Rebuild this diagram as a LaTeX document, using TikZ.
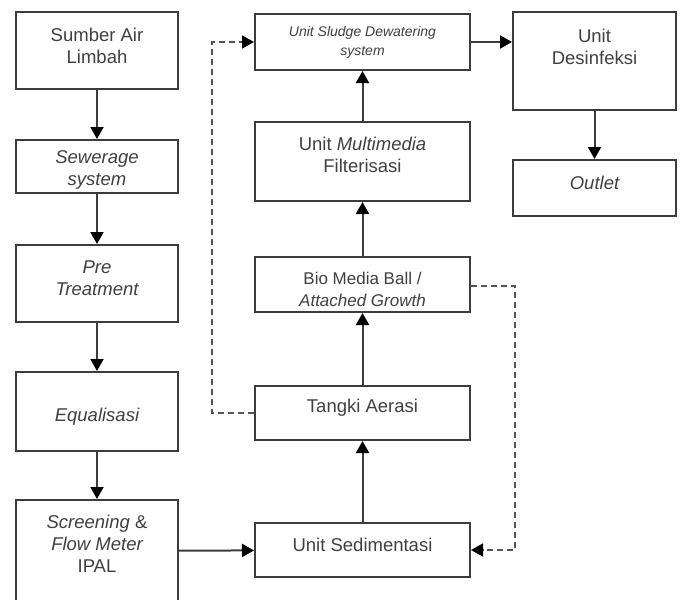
\documentclass[tikz,border=0pt]{standalone}
\usepackage{fontspec}
\setmainfont{Liberation Sans}
\usetikzlibrary{arrows.meta}

\definecolor{linegray}{HTML}{3C3C3C}
\definecolor{textgray}{HTML}{404040}
\definecolor{dashgray}{HTML}{555555}

\tikzset{
    box/.style = {draw = linegray, line width = 2pt, rectangle, inner sep = 0pt},
    txt/.style = {text = textgray, align = center, font = \fontsize{18.5}{22}\selectfont},
    flow/.style = {draw = linegray, line width = 2pt, -{Triangle[length = 12pt, width = 13pt, color = black]}},
    back/.style = {draw = dashgray, line width = 1.8pt, dash pattern = on 6pt off 4pt, -{Triangle[length = 12pt, width = 13pt, color = black]}}
}

\begin{document}
\begin{tikzpicture}[x = 1pt, y = -1pt]

        \clip (0, 0) rectangle (681, 600);
        \fill [white] (0, 0) rectangle (681, 600);

        % left column
        \node (sumber) at (97, 50.5) [box, minimum width = 162, minimum height = 77] {};
        \node (t1) at (97, 46) [txt] {Sumber Air\\Limbah};

        \node (sewer) at (97, 166.5) [box, minimum width = 162, minimum height = 53] {};
        \node (t2) at (97, 170) [txt] {\itshape Sewerage\\\itshape system};

        \node (pre) at (97, 283.5) [box, minimum width = 162, minimum height = 77] {};
        \node (t3) at (97, 278) [txt] {\itshape Pre\\\itshape Treatment};

        \node (equal) at (97, 411.5) [box, minimum width = 162, minimum height = 79] {};
        \node (t4) at (97, 417) [txt] {\itshape Equalisasi};

        \node (screen) at (97, 551) [box, minimum width = 162, minimum height = 102] {};
        \node (t5) at (97, 544) [txt] {\itshape Screening \upshape\&\\\itshape Flow Meter\\IPAL};

        % middle column
        \node (sludge) at (362.5, 42) [box, minimum width = 215, minimum height = 56] {};
        \node (t6) at (362.5, 42) [txt, font = \fontsize{14}{19}\selectfont\itshape] {Unit Sludge Dewatering\\system};

        \node (multi) at (362.5, 161.5) [box, minimum width = 215, minimum height = 79] {};
        \node (t7) at (362.5, 155) [txt] {Unit \textit{Multimedia}\\Filterisasi};

        \node (bio) at (362.5, 284.5) [box, minimum width = 215, minimum height = 55] {};
        \node (t8) at (362.5, 289) [txt, font = \fontsize{17}{22}\selectfont] {Bio Media Ball /\\\itshape Attached Growth};

        \node (tangki) at (362.5, 413) [box, minimum width = 215, minimum height = 54] {};
        \node (t9) at (362.5, 408) [txt] {Tangki Aerasi};

        \node (sedim) at (362.5, 550) [box, minimum width = 215, minimum height = 54] {};
        \node (t10) at (362.5, 545) [txt] {Unit Sedimentasi};

        % right column
        \node (desinf) at (594.5, 61) [box, minimum width = 163, minimum height = 98] {};
        \node (t11) at (594.5, 46.5) [txt] {Unit\\Desinfeksi};

        \node (outlet) at (594.5, 188) [box, minimum width = 163, minimum height = 56] {};
        \node (t12) at (594.5, 183) [txt] {\itshape Outlet};

        % main flow
        \draw [flow] (sumber) -- (sewer);
        \draw [flow] (sewer) -- (pre);
        \draw [flow] (pre) -- (equal);
        \draw [flow] (equal) -- (screen);
        \draw [flow] (screen) -- (sedim);
        \draw [flow] (sedim) -- (tangki);
        \draw [flow] (tangki) -- (bio);
        \draw [flow] (bio) -- (multi);
        \draw [flow] (multi) -- (sludge);
        \draw [flow] (sludge.east) -- (sludge.east -| desinf.west);
        \draw [flow] (desinf) -- (outlet);

        % return lines
        \draw [back] (tangki.west) -- ++(-42, 0) |- (sludge.west);
        \draw [back] (bio.east |- 0, 286) -- ++(44, 0) |- (sedim.east);

    \end{tikzpicture}
\end{document}
